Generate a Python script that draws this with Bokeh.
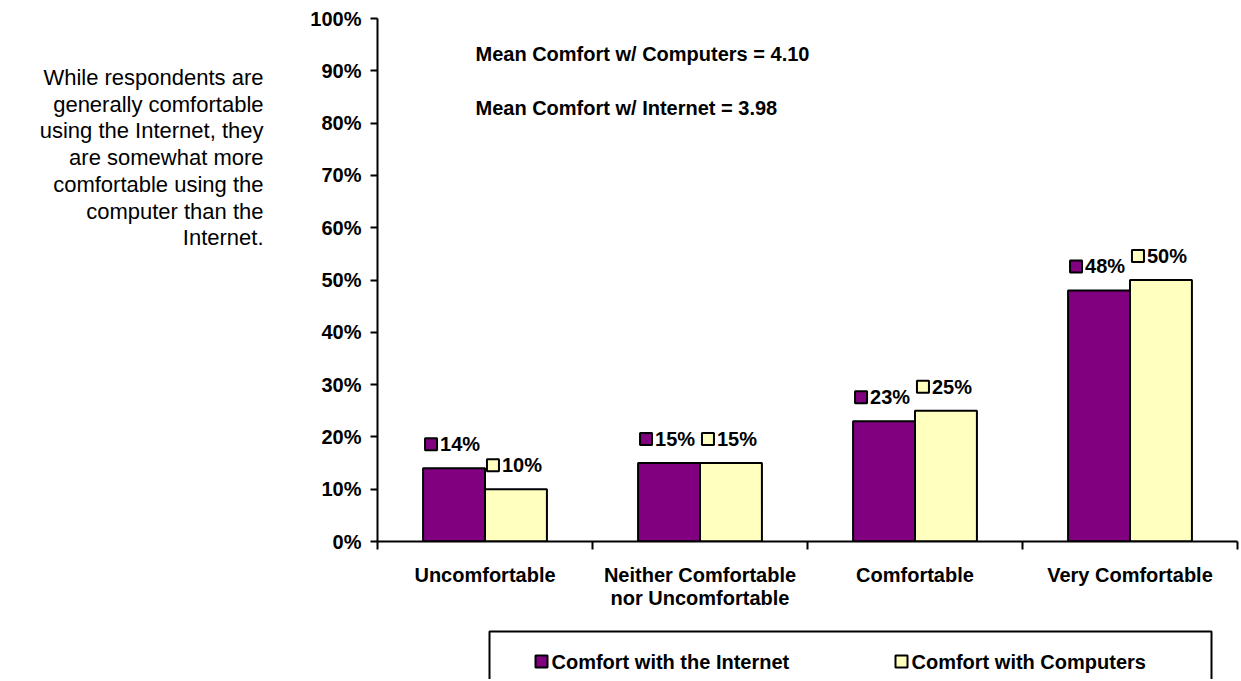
from bokeh.plotting import figure
from bokeh.layouts import row, column
from bokeh.models import (Range1d, FixedTicker, LinearAxis, Label,
                          ColumnDataSource)
from bokeh.embed import file_html
from bokeh.resources import INLINE
from bokeh.core.properties import value

# ---------------- data ----------------
categories = ["Uncomfortable", "Neither Comfortable\nnor Uncomfortable",
              "Comfortable", "Very Comfortable"]
internet = [14, 15, 23, 48]
computers = [10, 15, 25, 50]
series_names = ["Comfort with the Internet", "Comfort with Computers"]
y_ticks = [0, 10, 20, 30, 40, 50, 60, 70, 80, 90, 100]
y_tick_labels = [f"{t}%" for t in y_ticks]
mean_texts = ["Mean Comfort w/ Computers = 4.10",
              "Mean Comfort w/ Internet = 3.98"]
note_lines = ["While respondents are", "generally comfortable",
              "using the Internet, they", "are somewhat more",
              "comfortable using the", "computer than the", "Internet."]

# ---------------- style / layout ----------------
FONT = "Liberation Sans"
PURPLE = "#800080"
YELLOW = "#FFFFC0"
TOTAL_W, TOTAL_H = 1239, 679
NOTE_W = 275                      # left note panel width
MAIN_W = TOTAL_W - NOTE_W
MAIN_H = 623
LEG_H = TOTAL_H - MAIN_H
# frame edges in page pixels
FL, FR, FT, FB = 377, 1237, 18, 541
px_x = (FR - FL) / 4.0
px_y = (FB - FT) / 100.0
BW = 0.288

# ---------- side note figure ----------
note = figure(width=NOTE_W, height=TOTAL_H, output_backend="svg",
              toolbar_location=None, x_range=Range1d(0, NOTE_W),
              y_range=Range1d(TOTAL_H, 0), x_axis_type=None, y_axis_type=None,
              min_border=0)
note.outline_line_color = None
note_src = ColumnDataSource(dict(x=[263] * len(note_lines),
                                 y=[77 + 26.7 * i for i in range(len(note_lines))],
                                 t=note_lines))
note.text(x="x", y="y", text="t", source=note_src, text_align="right",
          text_baseline="middle", text_font=value(FONT),
          text_font_size="22px", text_color="black")

# ---------- main chart ----------
p = figure(width=MAIN_W, height=MAIN_H, output_backend="svg",
           toolbar_location=None,
           x_range=Range1d(0, 4), y_range=Range1d(0, 100),
           x_axis_type=None, y_axis_type=None,
           min_border_left=FL - NOTE_W, min_border_right=TOTAL_W - FR,
           min_border_top=FT, min_border_bottom=MAIN_H - FB)
p.outline_line_color = None

yaxis = LinearAxis(ticker=FixedTicker(ticks=y_ticks),
                   major_label_overrides={t: l for t, l in zip(y_ticks, y_tick_labels)})
yaxis.axis_line_width = 2
yaxis.axis_line_color = "black"
yaxis.major_tick_line_width = 2
yaxis.major_tick_out = 7
yaxis.major_tick_in = 0
yaxis.minor_tick_line_color = None
yaxis.major_label_standoff = 9
yaxis.major_label_text_font = FONT
yaxis.major_label_text_font_style = "bold"
yaxis.major_label_text_font_size = "20px"
yaxis.major_label_text_color = "black"
p.add_layout(yaxis, "left")

xaxis = LinearAxis(ticker=FixedTicker(ticks=[0, 1, 2, 3, 4]),
                   major_label_overrides={i: "" for i in range(5)})
xaxis.axis_line_width = 2
xaxis.major_tick_line_width = 2
xaxis.major_tick_out = 8
xaxis.major_tick_in = 0
xaxis.minor_tick_line_color = None
xaxis.major_label_text_font_size = "1px"
xaxis.major_label_standoff = 0
p.add_layout(xaxis, "below")

centers = [i + 0.5 for i in range(len(categories))]
xlab = LinearAxis(ticker=FixedTicker(ticks=centers),
                  major_label_overrides={c: n for c, n in zip(centers, categories)})
xlab.axis_line_color = None
xlab.major_tick_line_color = None
xlab.minor_tick_line_color = None
xlab.major_tick_out = 0
xlab.major_tick_in = 0
xlab.major_label_standoff = 14
xlab.major_label_text_font = FONT
xlab.major_label_text_font_style = "bold"
xlab.major_label_text_font_size = "20px"
xlab.major_label_text_line_height = 1.05
xlab.major_label_text_color = "black"
p.add_layout(xlab, "below")

x_int = [c - BW / 2 for c in centers]
x_com = [c + BW / 2 for c in centers]
src_i = ColumnDataSource(dict(x=x_int, top=internet))
src_c = ColumnDataSource(dict(x=x_com, top=computers))
p.vbar(x="x", top="top", bottom=0, width=BW, source=src_i,
       fill_color=PURPLE, line_color="black", line_width=2)
p.vbar(x="x", top="top", bottom=0, width=BW, source=src_c,
       fill_color=YELLOW, line_color="black", line_width=2)

LABEL_GAP = 24 / px_y   # label centre sits ~24px above bar top


def add_labels(xs, vals, color):
    ly = [v + LABEL_GAP for v in vals]
    sq_x = [x - 23 / px_x for x in xs]
    src = ColumnDataSource(dict(x=xs, sx=sq_x, y=ly,
                                t=[f"{v}%" for v in vals]))
    p.rect(x="sx", y="y", width=12, height=12, width_units="screen",
           height_units="screen", source=src, fill_color=color,
           line_color="black", line_width=2)
    p.text(x="x", y="y", text="t", source=src, x_offset=-14,
           text_align="left", text_baseline="middle",
           text_font=value(FONT), text_font_style="bold",
           text_font_size="20px", text_color="black")


add_labels(x_int, internet, PURPLE)
add_labels(x_com, computers, YELLOW)

for i, t in enumerate(mean_texts):
    page_y = 53 + 54 * i
    p.add_layout(Label(x=(475 - FL) / px_x, y=(FB - page_y) / px_y,
                       text=t, text_align="left", text_baseline="middle",
                       text_font=FONT, text_font_style="bold",
                       text_font_size="20px", text_color="black"))

# ---------- legend strip (drawn in page-pixel coordinates) ----------
# the column layout aligns this strip's frame with the chart frame (FL..FR)
lf = figure(width=MAIN_W, height=LEG_H, output_backend="svg",
            toolbar_location=None,
            x_range=Range1d(FL, FR),
            y_range=Range1d(MAIN_H + LEG_H, MAIN_H),
            x_axis_type=None, y_axis_type=None, min_border=0,
            min_border_left=FL - NOTE_W, min_border_right=TOTAL_W - FR)
lf.outline_line_color = None
lf.quad(left=[489], right=[1211], top=[631], bottom=[700],
        fill_color="white", line_color="black", line_width=2)
leg_src = ColumnDataSource(dict(sx=[541, 901], tx=[551, 911], y=[661, 661],
                                color=[PURPLE, YELLOW], t=series_names))
lf.rect(x="sx", y="y", width=12, height=12, width_units="screen",
        height_units="screen", source=leg_src, fill_color="color",
        line_color="black", line_width=2)
lf.text(x="tx", y="y", text="t", source=leg_src, text_align="left",
        text_baseline="middle", text_font=value(FONT),
        text_font_style="bold", text_font_size="20px", text_color="black")

layout = row(note, column(p, lf, spacing=0), spacing=0)
open("out.html", "w").write(file_html(layout, INLINE))
